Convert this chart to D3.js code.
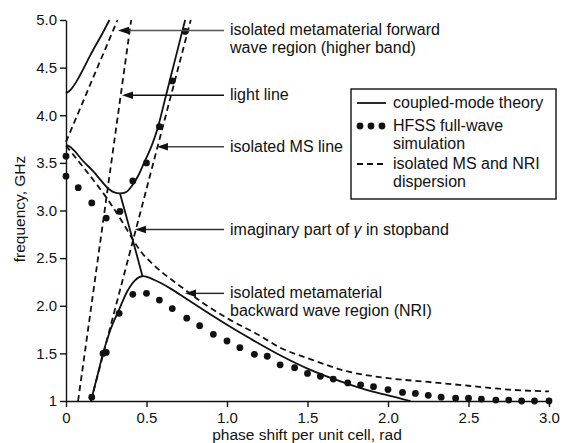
<!DOCTYPE html>
<html>
<head>
<meta charset="utf-8">
<script src="https://cdn.jsdelivr.net/npm/d3@7"></script>
<style>
  html, body { margin: 0; padding: 0; background: #fff; }
  svg { display: block; font-family: "Liberation Sans", Arial, Helvetica, sans-serif; }
  .axis text { font-size: 15px; fill: #111; }
  .axis path, .axis line { stroke: #111; stroke-width: 1.4; }
</style>
</head>
<body>
<svg id="chart" width="565" height="443"></svg>
<script>
// 軸刻度
const xTicks = [0, 0.5, 1.0, 1.5, 2.0, 2.5, 3.0];
const yTicks = [1, 1.5, 2.0, 2.5, 3.0, 3.5, 4.0, 4.5, 5.0];

// coupled-mode theory（實線）
const upperBandTheory = [[0, 4.23], [0.03, 4.27], [0.06, 4.34], [0.09, 4.43], [0.13, 4.56], [0.17, 4.69], [0.22, 4.84], [0.27, 5.0]];
const coupledTheory = [[0, 3.69], [0.025, 3.67], [0.05, 3.63], [0.1, 3.53], [0.17, 3.41], [0.22, 3.31], [0.27, 3.22], [0.3, 3.19], [0.335, 3.18],
  [0.37, 3.19], [0.41, 3.26], [0.45, 3.37], [0.49, 3.52], [0.53, 3.67], [0.565, 3.84], [0.62, 4.2], [0.68, 4.6], [0.74, 5.0]];
const stopbandImag = [[0.335, 3.18], [0.41, 2.72], [0.475, 2.31]];
const lowerBandTheory = [[0.155, 1.0], [0.2, 1.3], [0.23, 1.5], [0.27, 1.72], [0.33, 1.96], [0.38, 2.15], [0.43, 2.27], [0.48, 2.31],
  [0.55, 2.27], [0.65, 2.18], [0.75, 2.07], [0.85, 1.96], [1.0, 1.8], [1.15, 1.65], [1.33, 1.48], [1.5, 1.34], [1.75, 1.18],
  [1.9, 1.1], [2.0, 1.06], [2.14, 1.0]];

// HFSS full-wave simulation（圓點）
const hfssPoints = [[0, 3.57], [0, 3.36], [0.076, 3.24], [0.16, 3.08], [0.25, 2.92], [0.335, 2.99], [0.415, 3.31], [0.5, 3.5],
  [0.58, 3.88], [0.66, 4.36], [0.74, 4.88],
  [0.16, 1.04], [0.23, 1.5], [0.25, 1.51], [0.33, 1.92], [0.415, 2.12], [0.5, 2.13], [0.58, 2.06], [0.66, 1.97], [0.75, 1.87],
  [0.83, 1.79], [0.915, 1.7], [1.0, 1.63], [1.08, 1.56], [1.17, 1.49], [1.25, 1.47], [1.33, 1.38], [1.42, 1.35], [1.5, 1.29],
  [1.58, 1.26], [1.66, 1.23], [1.75, 1.19], [1.83, 1.17], [1.91, 1.15], [2.0, 1.12], [2.09, 1.09], [2.17, 1.08], [2.25, 1.06],
  [2.33, 1.04], [2.42, 1.03], [2.5, 1.03], [2.58, 1.02], [2.67, 1.01], [2.75, 1.01], [2.83, 1.0], [2.91, 1.0], [3.0, 1.0]];

// isolated MS / NRI dispersion（虛線）
const lightLine = [[0.075, 1.0], [0.405, 5.0]];
const msLine = [[0.155, 1.0], [0.775, 5.0]];
const nriHigher = [[0, 3.72], [0.32, 5.0]];
const nriBackward = [[0, 3.68], [0.1, 3.47], [0.17, 3.32], [0.27, 3.09], [0.35, 2.88], [0.41, 2.71], [0.46, 2.58], [0.55, 2.42],
  [0.65, 2.28], [0.73, 2.18], [0.85, 2.03], [1.0, 1.87], [1.2, 1.69], [1.33, 1.56], [1.5, 1.45], [1.75, 1.31], [2.0, 1.24],
  [2.25, 1.2], [2.5, 1.16], [2.75, 1.12], [3.0, 1.1]];

// 標註：文字與箭頭尖端（資料座標）；γ 以斜體呈現
const notes = [
  { lines: [['isolated metamaterial forward'], ['wave region (higher band)']], tip: [0.323, 4.89], color: '#555' },
  { lines: [['light line']], tip: [0.348, 4.21], color: '#111' },
  { lines: [['isolated MS line']], tip: [0.565, 3.67], color: '#444' },
  { lines: [['imaginary part of ', '\u03b3', ' in stopband']], tip: [0.428, 2.8], color: '#333' },
  { lines: [['isolated metamaterial'], ['backward wave region (NRI)']], tip: [0.739, 2.13], color: '#222' },
];

const legendItems = [
  { kind: 'solid', lines: ['coupled-mode theory'] },
  { kind: 'dots', lines: ['HFSS full-wave', 'simulation'] },
  { kind: 'dash', lines: ['isolated MS and NRI', 'dispersion'] },
];

const svg = d3.select('#chart');
const x = d3.scaleLinear().domain([0, 3]).range([66, 549]);
const y = d3.scaleLinear().domain([1, 5]).range([401, 20]);

const line = d3.line().x((d) => x(d[0])).y((d) => y(d[1]));
const smooth = d3.line().x((d) => x(d[0])).y((d) => y(d[1])).curve(d3.curveMonotoneX);
const fs = '16px';

// 軸
svg.append('g').attr('class', 'axis').attr('transform', 'translate(0,401)')
  .call(d3.axisBottom(x).tickValues(xTicks).tickSize(6).tickSizeOuter(0).tickPadding(5)
    .tickFormat((d) => (d === 0 ? '0' : d.toFixed(1))));
svg.append('g').attr('class', 'axis').attr('transform', 'translate(66,0)')
  .call(d3.axisLeft(y).tickValues(yTicks).tickSize(6).tickSizeOuter(0).tickPadding(3)
    .tickFormat((d) => (d === 1 ? '1' : d.toFixed(1))));

svg.append('text').attr('x', 307).attr('y', 440).attr('text-anchor', 'middle')
  .style('font-size', '15.5px').attr('fill', '#111').text('phase shift per unit cell, rad');
svg.append('text').attr('transform', 'translate(25,209) rotate(-90)').attr('text-anchor', 'middle')
  .style('font-size', '15.5px').attr('fill', '#111').text('frequency, GHz');

// 虛線
const dashed = [lightLine, msLine, nriHigher, nriBackward];
svg.append('g').selectAll('path').data(dashed).join('path')
  .attr('d', (d) => (d.length > 2 ? smooth(d) : line(d)))
  .attr('fill', 'none').attr('stroke', '#111').attr('stroke-width', 1.8).attr('stroke-dasharray', '6,4');

// 實線
svg.append('g').selectAll('path').data([upperBandTheory, coupledTheory, lowerBandTheory]).join('path')
  .attr('d', smooth).attr('fill', 'none').attr('stroke', '#111').attr('stroke-width', 1.8);
svg.append('path').attr('d', line.curve(d3.curveCatmullRom)(stopbandImag))
  .attr('fill', 'none').attr('stroke', '#111').attr('stroke-width', 1.8);

// HFSS 點
svg.append('g').selectAll('circle').data(hfssPoints).join('circle')
  .attr('cx', (d) => x(d[0])).attr('cy', (d) => y(d[1])).attr('r', 3.4).attr('fill', '#111');

// 箭頭標註
const textX = 230, lineStart = 224, lh = 18;
notes.forEach((n) => {
  const tx = x(n.tip[0]), ty = y(n.tip[1]);
  const g = svg.append('g');
  g.append('line').attr('x1', lineStart).attr('x2', tx + 8).attr('y1', ty).attr('y2', ty)
    .attr('stroke', n.color).attr('stroke-width', 1.4);
  g.append('path').attr('d', `M${tx},${ty}L${tx + 11},${ty - 3.8}L${tx + 11},${ty + 3.8}Z`).attr('fill', '#111');
  n.lines.forEach((parts, i) => {
    const t = g.append('text').attr('x', textX).attr('y', ty + 5 + i * lh).style('font-size', fs).attr('fill', '#111');
    parts.forEach((p, k) => {
      t.append('tspan').style('font-style', k === 1 ? 'italic' : null).text(p);
    });
  });
});

// 圖例
const lg = svg.append('g');
lg.append('rect').attr('x', 351).attr('y', 89).attr('width', 205).attr('height', 110)
  .attr('fill', '#fff').attr('stroke', '#111').attr('stroke-width', 1.4);
const rowY = [103, 126, 164];
legendItems.forEach((it, i) => {
  const yy = rowY[i];
  if (it.kind === 'solid') {
    lg.append('line').attr('x1', 357).attr('x2', 386).attr('y1', yy).attr('y2', yy).attr('stroke', '#111').attr('stroke-width', 1.8);
  } else if (it.kind === 'dash') {
    lg.append('line').attr('x1', 357).attr('x2', 386).attr('y1', yy).attr('y2', yy).attr('stroke', '#111')
      .attr('stroke-width', 1.8).attr('stroke-dasharray', '6,4');
  } else {
    [360, 371, 382].forEach((cx) => lg.append('circle').attr('cx', cx).attr('cy', yy).attr('r', 3.4).attr('fill', '#111'));
  }
  it.lines.forEach((t, j) => {
    lg.append('text').attr('x', 393).attr('y', yy + 5 + j * lh).style('font-size', fs).attr('fill', '#111').text(t);
  });
});
</script>
</body>
</html>
